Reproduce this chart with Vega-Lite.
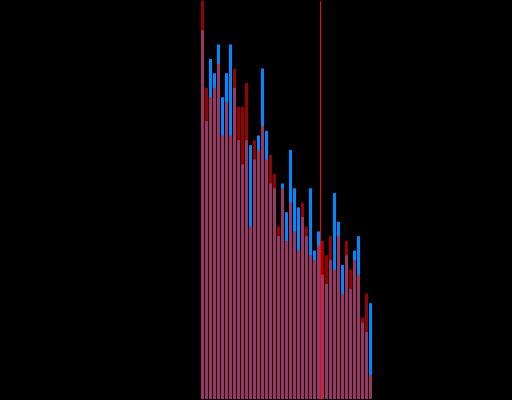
{
  "$schema": "https://vega.github.io/schema/vega-lite/v6.json",
  "width": 512,
  "height": 400,
  "padding": 0,
  "autosize": {"type": "fit", "contains": "padding"},
  "background": "#000000",
  "config": {"view": {"stroke": null}},
  "datasets": {
    "bins": [
      {"bin_start": 0, "bin_end": 1, "blue": 77, "red": 90},
      {"bin_start": 1, "bin_end": 2, "blue": 58, "red": 65},
      {"bin_start": 2, "bin_end": 3, "blue": 71, "red": 63},
      {"bin_start": 3, "bin_end": 4, "blue": 68, "red": 65},
      {"bin_start": 4, "bin_end": 5, "blue": 74, "red": 70},
      {"bin_start": 5, "bin_end": 6, "blue": 63, "red": 55},
      {"bin_start": 6, "bin_end": 7, "blue": 68, "red": 62},
      {"bin_start": 7, "bin_end": 8, "blue": 74, "red": 55},
      {"bin_start": 8, "bin_end": 9, "blue": 65, "red": 69},
      {"bin_start": 9, "bin_end": 10, "blue": 54, "red": 61},
      {"bin_start": 10, "bin_end": 11, "blue": 49, "red": 61},
      {"bin_start": 11, "bin_end": 12, "blue": 54, "red": 66},
      {"bin_start": 12, "bin_end": 13, "blue": 53, "red": 36},
      {"bin_start": 13, "bin_end": 14, "blue": 50, "red": 54},
      {"bin_start": 14, "bin_end": 15, "blue": 55, "red": 52},
      {"bin_start": 15, "bin_end": 16, "blue": 69, "red": 57},
      {"bin_start": 16, "bin_end": 17, "blue": 56, "red": 50},
      {"bin_start": 17, "bin_end": 18, "blue": 45, "red": 51},
      {"bin_start": 18, "bin_end": 19, "blue": 44, "red": 47},
      {"bin_start": 19, "bin_end": 20, "blue": 34, "red": 36},
      {"bin_start": 20, "bin_end": 21, "blue": 45, "red": 44},
      {"bin_start": 21, "bin_end": 22, "blue": 39, "red": 33},
      {"bin_start": 22, "bin_end": 23, "blue": 52, "red": 41},
      {"bin_start": 23, "bin_end": 24, "blue": 44, "red": 35},
      {"bin_start": 24, "bin_end": 25, "blue": 40, "red": 31},
      {"bin_start": 25, "bin_end": 26, "blue": 38, "red": 41},
      {"bin_start": 26, "bin_end": 27, "blue": 34, "red": 36},
      {"bin_start": 27, "bin_end": 28, "blue": 44, "red": 30},
      {"bin_start": 28, "bin_end": 29, "blue": 31, "red": 29},
      {"bin_start": 29, "bin_end": 30, "blue": 35, "red": 32},
      {"bin_start": 30, "bin_end": 31, "blue": 26, "red": 33},
      {"bin_start": 31, "bin_end": 32, "blue": 24, "red": 30},
      {"bin_start": 32, "bin_end": 33, "blue": 29, "red": 34},
      {"bin_start": 33, "bin_end": 34, "blue": 43, "red": 27},
      {"bin_start": 34, "bin_end": 35, "blue": 37, "red": 34},
      {"bin_start": 35, "bin_end": 36, "blue": 28, "red": 22},
      {"bin_start": 36, "bin_end": 37, "blue": 30, "red": 33},
      {"bin_start": 37, "bin_end": 38, "blue": 23, "red": 27},
      {"bin_start": 38, "bin_end": 39, "blue": 31, "red": 29},
      {"bin_start": 39, "bin_end": 40, "blue": 34, "red": 26},
      {"bin_start": 40, "bin_end": 41, "blue": 16, "red": 17},
      {"bin_start": 41, "bin_end": 42, "blue": 14, "red": 22},
      {"bin_start": 42, "bin_end": 43, "blue": 20, "red": 5}
    ],
    "markers": [{"position": 30.125}]
  },
  "layer": [
    {
      "data": {"name": "bins"},
      "mark": {"type": "bar", "color": "#0088ff", "clip": true},
      "encoding": {
        "x": {"field": "bin_start", "type": "quantitative", "bin": "binned",
              "scale": {"domain": [-50, 78], "nice": false, "zero": false}, "axis": null},
        "x2": {"field": "bin_end"},
        "y": {"field": "blue", "type": "quantitative",
              "scale": {"domain": [0, 83.1], "nice": false}, "axis": null}
      }
    },
    {
      "data": {"name": "bins"},
      "mark": {"type": "bar", "color": "#ff0000", "opacity": 0.6, "clip": true},
      "encoding": {
        "x": {"field": "bin_start", "type": "quantitative", "bin": "binned", "axis": null},
        "x2": {"field": "bin_end"},
        "y": {"field": "red", "type": "quantitative", "axis": null}
      }
    },
    {
      "data": {"name": "markers"},
      "mark": {"type": "rule", "color": "#ff0000", "strokeWidth": 1},
      "encoding": {
        "x": {"field": "position", "type": "quantitative", "axis": null}
      }
    }
  ]
}
